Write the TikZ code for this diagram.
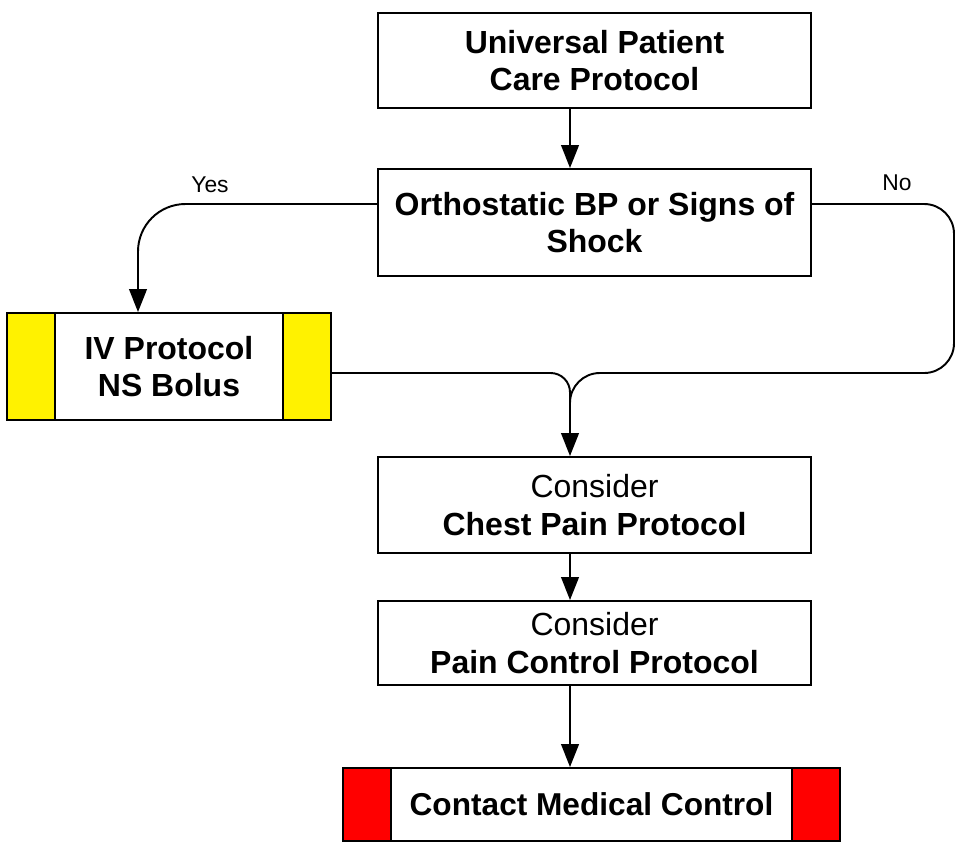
\documentclass[tikz,border=0pt]{standalone}
\usepackage{fontspec}
\setmainfont{Liberation Sans}
\usetikzlibrary{arrows, arrows.meta, positioning}
\tikzset{
	block/.style={draw, line width=1.1pt, fill=white, align=center, inner sep=0pt, font=\fontsize{18.2}{21.5}\selectfont},
	flow/.style={line width=1.1pt, -{Triangle[length=13pt, width=10pt]}},
	line/.style={line width=1.1pt},
	bars/.style={path picture={
		\fill[#1] (path picture bounding box.south west) rectangle ([xshift=0.96cm]path picture bounding box.north west);
		\fill[#1] (path picture bounding box.south east) rectangle ([xshift=-0.96cm]path picture bounding box.north east);
		\draw[line width=1.1pt] ([xshift=0.96cm]path picture bounding box.south west) -- ([xshift=0.96cm]path picture bounding box.north west);
		\draw[line width=1.1pt] ([xshift=-0.96cm]path picture bounding box.south east) -- ([xshift=-0.96cm]path picture bounding box.north east);
	}},
	answer/.style={font=\fontsize{13}{15}\selectfont}
}

\begin{document}
\begin{tikzpicture}[x=0.02cm, y=-0.02cm]
		\useasboundingbox (0,0) rectangle (955,842);
		
		\node[block, minimum width=8.66cm, minimum height=1.9cm] (upc) at (594.5,60.5) {\bfseries Universal Patient\\\bfseries Care Protocol};
		
		\node[block, minimum width=8.66cm, minimum height=2.14cm] (shock) at (594.5,222.5) {\bfseries Orthostatic BP or Signs of\\\bfseries Shock};
		
		\node[block, bars=yellow, minimum width=6.48cm, minimum height=2.14cm] (iv) at (169,366.5) {\bfseries IV Protocol\\\bfseries NS Bolus};
		
		\node[block, minimum width=8.66cm, minimum height=1.92cm] (chest) at (594.5,505) {Consider\\\textbf{Chest Pain Protocol}};
		
		\node[block, minimum width=8.66cm, minimum height=1.68cm] (pain) at (594.5,643) {Consider\\\textbf{Pain Control Protocol}};
		
		\node[block, bars=red, minimum width=9.94cm, minimum height=1.46cm, font=\fontsize{18}{21.5}\selectfont\bfseries] (mc) at (591.5,804.5) {Contact Medical Control};
		
		\node[answer] (yes) at (210,185) {Yes};
		\node[answer] (no) at (897,183) {No};
		
		\coordinate (spine) at (570,0);
		\coordinate (noturn) at (954,373);
		
		\draw[flow] (upc.south -| spine) -- (shock.north -| spine);
		
		\draw[flow, rounded corners=27pt] ([yshift=0.37cm]shock.west) -| ([xshift=-0.62cm]iv.north);
		
		\draw[flow] ([yshift=0.37cm]shock.east) [rounded corners=17pt] -| (noturn) -- (noturn -| spine) [rounded corners=11pt] -- (chest.north -| spine);
		\draw[line, rounded corners=11pt] ([yshift=-0.13cm]iv.east) -- (noturn -| spine) -- ([yshift=-0.8cm]noturn -| spine);
		
		\draw[flow] (chest.south -| spine) -- (pain.north -| spine);
		\draw[flow] (pain.south -| spine) -- (mc.north -| spine);
	\end{tikzpicture}
\end{document}
